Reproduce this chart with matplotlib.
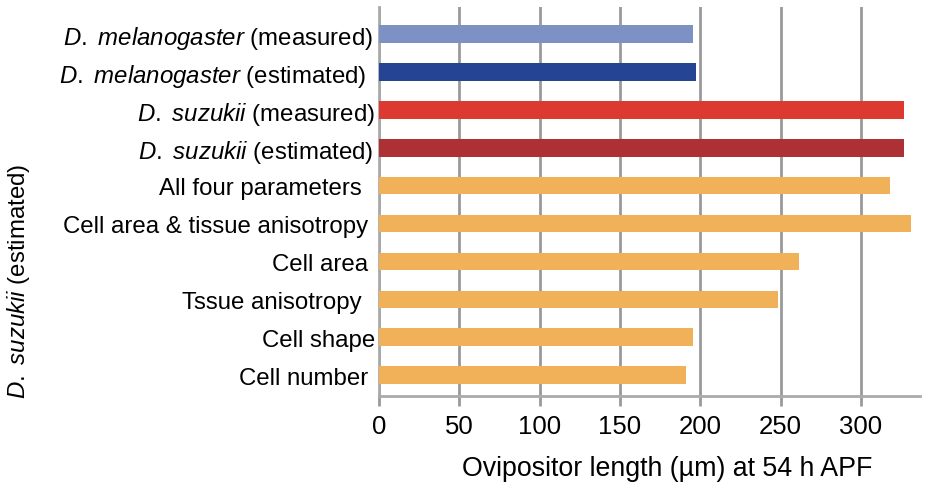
import matplotlib.pyplot as plt

plt.rcParams['font.family'] = ['Liberation Sans', 'DejaVu Sans']
plt.rcParams['mathtext.fontset'] = 'custom'
plt.rcParams['mathtext.rm'] = 'Liberation Sans'
plt.rcParams['mathtext.it'] = 'Liberation Sans:italic'

# categories, top to bottom
labels = [
    r'$\mathit{D.}$ $\mathit{melanogaster}$ (measured) ',
    r'$\mathit{D.}$ $\mathit{melanogaster}$ (estimated)  ',
    r'$\mathit{D.}$ $\mathit{suzukii}$ (measured)',
    r'$\mathit{D.}$ $\mathit{suzukii}$ (estimated) ',
    'All four parameters  ',
    'Cell area & tissue anisotropy ',
    'Cell area ',
    'Tssue anisotropy  ',
    'Cell shape',
    'Cell number ',
]
values = [195.4, 197.2, 327, 327, 318, 331.4, 261.7, 248.7, 195.4, 190.9]
colors = ['#7D91C5', '#264494', '#DC3A31', '#AD3034',
          '#F0B158', '#F0B158', '#F0B158', '#F0B158', '#F0B158', '#F0B158']
xticks = [0, 50, 100, 150, 200, 250, 300]

fig = plt.figure(figsize=(9.3, 4.85), dpi=100)
ax = fig.add_axes([0.4075, 0.181, 0.582, 0.803])

pos = list(range(len(labels)))
ax.barh(pos, values, height=0.47, color=colors, zorder=3)

ax.set_xlim(0, 337)
ax.set_ylim(9.55, -0.71)
ax.set_xticks(xticks)
ax.set_yticks(pos)
ax.set_yticklabels(labels, fontsize=17.3)
ax.tick_params(axis='y', length=0, pad=3)
ax.tick_params(axis='x', length=7, width=2, color='#999999', labelsize=18.5, pad=6)

ax.grid(axis='x', color='#999999', linewidth=2, zorder=0)
for s in ['top', 'right']:
    ax.spines[s].set_visible(False)
for s in ['left', 'bottom']:
    ax.spines[s].set_color('#AAAAAA')
    ax.spines[s].set_linewidth(2)

ax.set_xlabel('Ovipositor length (µm) at 54 h APF', fontsize=19.3)
ax.xaxis.set_label_coords(0.533, -0.15)
fig.text(0.02, 0.42, r'$\mathit{D.}$ $\mathit{suzukii}$ (estimated)', rotation=90,
         fontsize=17.3, ha='center', va='center')

fig.savefig('out.png', dpi=100)
